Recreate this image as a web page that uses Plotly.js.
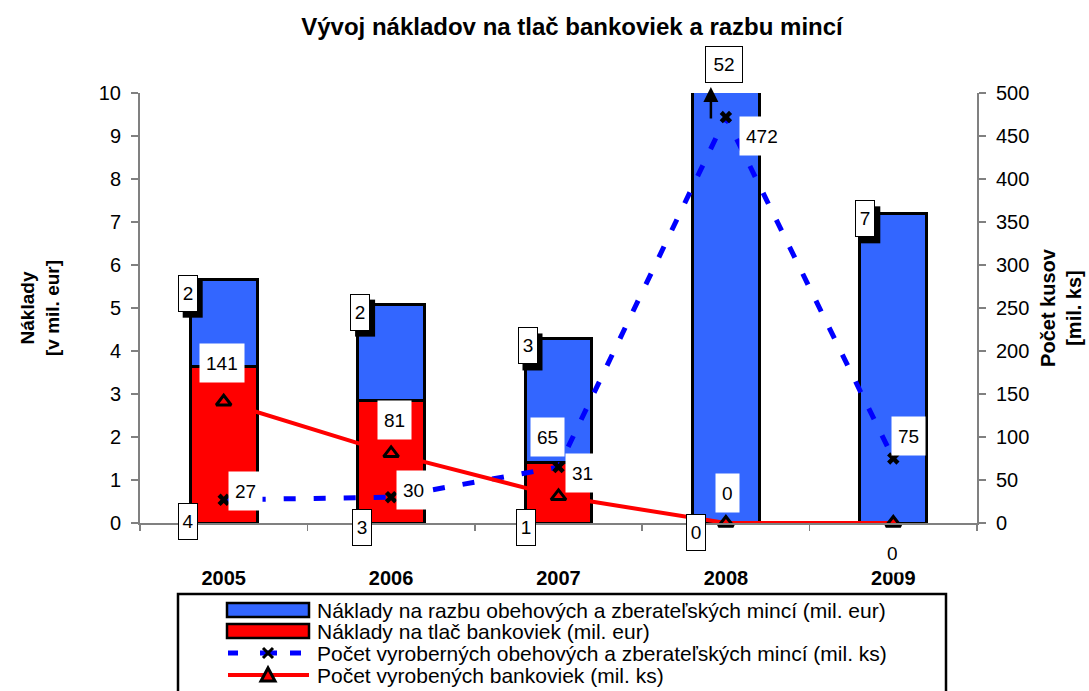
<!DOCTYPE html>
<html><head><meta charset="utf-8">
<script src="https://cdn.plot.ly/plotly-3.0.1.min.js"></script>
<style>html,body{margin:0;padding:0;background:#fff}#chart{width:1089px;height:691px}</style>
</head><body><div id="chart"></div>
<script>
// ---- data ----
const years = ['2005', '2006', '2007', '2008', '2009'];
const coinCost = [2.02, 2.23, 2.88, 52, 7.19];      // mil. eur
const noteCost = [3.65, 2.86, 1.40, 0, 0];          // mil. eur
const coinCount = [27, 30, 65, 472, 75];            // mil. ks
const noteCount = [141, 81, 31, 0, 0];              // mil. ks
const coinCostLabels = ['2', '2', '3', '52', '7'];
const noteCostLabels = ['4', '3', '1', '0'];
const coinCountLabels = ['27', '30', '65', '472', '75'];
const noteCountLabels = ['141', '81', '31', '0', '0'];
const seriesNames = [
  'Náklady na razbu obehových a zberateľských mincí (mil. eur)',
  'Náklady na tlač bankoviek (mil. eur)',
  'Počet vyroberných obehových a zberateľských mincí (mil. ks)',
  'Počet vyrobených bankoviek (mil. ks)'
];
const titleText = 'Vývoj nákladov na tlač bankoviek a razbu mincí';
const yTitle = 'Náklady<br>[v mil. eur]';
const y2Title = 'Počet kusov<br>[mil. ks]';
const yMax = 10, y2Max = 500;

// ---- geometry / styling ----
const W = 1089, H = 691, ML = 140, MR = 112, MT = 93, MB = 168;
const PW = W - ML - MR, PH = H - MT - MB;
const px2x = px => (px - ML) / PW;
const px2y = py => (H - MB - py) / PH;

const blueOff = [[-36, -14], [-31, -8], [-31, -7], [-2, 29], [-28, -5]];
const redOff = [[-36, 2], [-29, -4], [-33, -4], [-30, -9]];
const coinOff = [[22, 9], [22, 7], [-11, 30], [36, -19], [15, 23]];
const noteOff = [[-2, 39], [3, 33], [24, 23], [2, 30], [-1, -30]];

const FONT = 'Liberation Sans, Arial, sans-serif';
const BLUE = '#3366FF', RED = '#FF0000', DBLUE = '#0000FF';

const traces = [
  { type: 'bar', x: years, y: noteCost, name: seriesNames[1], showlegend: false,
    marker: { color: RED, line: { color: '#000', width: 3 } }, width: 0.4 },
  { type: 'bar', x: years, y: coinCost, name: seriesNames[0], showlegend: false,
    marker: { color: BLUE, line: { color: '#000', width: 3 } }, width: 0.4 },
  { type: 'scatter', mode: 'lines+markers', x: years, y: coinCount, yaxis: 'y2', name: seriesNames[2], showlegend: false,
    line: { color: DBLUE, width: 5, dash: '12px,18px' },
    marker: { symbol: 'x', size: 11, color: '#000' }, cliponaxis: false },
  { type: 'scatter', mode: 'lines+markers', x: years, y: noteCount, yaxis: 'y2', name: seriesNames[3], showlegend: false,
    line: { color: RED, width: 4 },
    marker: { symbol: 'triangle-up', size: 13, color: RED, line: { color: '#000', width: 3 } }, cliponaxis: false }
];

const ann = [];
const shapes = [];
const LF = { family: FONT, size: 19, color: '#000' };
function label(i, y, yref, text, off, opts) {
  ann.push(Object.assign({
    x: i, y: y, xref: 'x', yref: yref, text: text, showarrow: false,
    xshift: off[0], yshift: off[1], font: LF
  }, opts));
}
const boxed = { bgcolor: '#fff', bordercolor: '#000', borderwidth: 1, borderpad: 1, height: 33 };
// drop shadows behind the coin-cost boxes (drawn as pixel-sized shapes)
years.forEach((yr, i) => {
  const top = Math.min(noteCost[i] + coinCost[i], yMax);
  if (top < yMax) {
    const cx = blueOff[i][0] + 5, cy = blueOff[i][1] - 6;
    shapes.push({ type: 'rect', xref: 'x', yref: 'y', xsizemode: 'pixel', ysizemode: 'pixel', xanchor: i, yanchor: top,
      x0: cx - 10, x1: cx + 10, y0: cy - 18.5, y1: cy + 18.5, fillcolor: '#000', line: { width: 0 }, layer: 'above' });
  }
});
years.forEach((yr, i) => {
  const top = Math.min(noteCost[i] + coinCost[i], yMax);
  label(i, top, 'y', coinCostLabels[i], blueOff[i], Object.assign({}, boxed, { width: coinCostLabels[i].length > 1 ? 34 : 16 }));
});
noteCostLabels.forEach((t, i) => {
  label(i, 0, 'y', t, redOff[i], Object.assign({}, boxed, { width: 16 }));
});
years.forEach((yr, i) => {
  label(i, coinCount[i], 'y2', coinCountLabels[i], coinOff[i], { bgcolor: '#fff', borderpad: 6, height: 26 });
  label(i, noteCount[i], 'y2', noteCountLabels[i], noteOff[i], { bgcolor: '#fff', borderpad: 6, height: 26 });
});
// arrow showing the off-scale 2008 bar
ann.push({ x: 3, y: yMax, xref: 'x', yref: 'y', text: '', showarrow: true,
  ax: 0, ay: 33, xshift: -15, yshift: 6, arrowhead: 2, arrowsize: 1.2, arrowwidth: 2.5, arrowcolor: '#000' });

// ---- custom legend (wide swatches as in the original) ----
shapes.push({ type: 'rect', xref: 'paper', yref: 'paper', x0: px2x(178), x1: px2x(946), y0: px2y(594), y1: px2y(710),
  line: { color: '#000', width: 2.5 }, fillcolor: '#fff', layer: 'above' });
const legRowsY = [610, 631, 653, 675];
const swX0 = 227, swX1 = 309, markX = 268, textX = 315;
shapes.push({ type: 'rect', xref: 'paper', yref: 'paper', x0: px2x(swX0), x1: px2x(swX1), y0: px2y(legRowsY[0] - 7), y1: px2y(legRowsY[0] + 7),
  fillcolor: BLUE, line: { color: '#000', width: 2.5 }, layer: 'above' });
shapes.push({ type: 'rect', xref: 'paper', yref: 'paper', x0: px2x(swX0), x1: px2x(swX1), y0: px2y(legRowsY[1] - 7), y1: px2y(legRowsY[1] + 7),
  fillcolor: RED, line: { color: '#000', width: 2.5 }, layer: 'above' });
[[228, 238], [260, 277], [290, 301]].forEach(s => {
  shapes.push({ type: 'line', xref: 'paper', yref: 'paper', x0: px2x(s[0]), x1: px2x(s[1]), y0: px2y(legRowsY[2]), y1: px2y(legRowsY[2]),
    line: { color: DBLUE, width: 5 }, layer: 'above' });
});
shapes.push({ type: 'path', xref: 'paper', yref: 'paper', xsizemode: 'pixel', ysizemode: 'pixel',
  xanchor: px2x(markX), yanchor: px2y(legRowsY[2]), path: 'M-5,-5L5,5M-5,5L5,-5', line: { color: '#000', width: 3 }, layer: 'above' });
shapes.push({ type: 'line', xref: 'paper', yref: 'paper', x0: px2x(228), x1: px2x(309), y0: px2y(legRowsY[3]), y1: px2y(legRowsY[3]),
  line: { color: RED, width: 4 }, layer: 'above' });
shapes.push({ type: 'path', xref: 'paper', yref: 'paper', xsizemode: 'pixel', ysizemode: 'pixel',
  xanchor: px2x(markX), yanchor: px2y(legRowsY[3]), path: 'M-7,-6L7,-6L0,7Z', fillcolor: RED, line: { color: '#000', width: 3 }, layer: 'above' });
seriesNames.forEach((n, k) => {
  ann.push({ xref: 'paper', yref: 'paper', x: px2x(textX), y: px2y(legRowsY[k]), xanchor: 'left', yanchor: 'middle',
    text: n, showarrow: false, font: { family: FONT, size: 21, color: '#000' } });
});

const layout = {
  width: W, height: H,
  margin: { l: ML, r: MR, t: MT, b: MB },
  paper_bgcolor: '#fff', plot_bgcolor: '#fff',
  font: { family: FONT, size: 19, color: '#000' },
  title: { text: '<b>' + titleText + '</b>', font: { family: FONT, size: 24, color: '#000' },
    x: 572 / W, xref: 'container', xanchor: 'center', y: 1 - 27 / H, yref: 'container', yanchor: 'middle' },
  barmode: 'stack', bargap: 0.6,
  showlegend: false,
  xaxis: { type: 'category', range: [-0.5, 4.5], showline: true, linecolor: '#808080', linewidth: 2, ticks: 'outside', tickson: 'boundaries',
    ticklen: 6, tickcolor: '#808080', tickwidth: 1.5, showgrid: false, zeroline: false,
    tickfont: { family: FONT, size: 20, color: '#000', weight: 'bold' }, ticklabelstandoff: 36 },
  yaxis: { range: [0, yMax], dtick: 1, showline: true, linecolor: '#808080', linewidth: 2, ticks: 'outside', ticklen: 7,
    tickcolor: '#808080', tickwidth: 1.5, showgrid: false, zeroline: false, tickfont: { family: FONT, size: 20, color: '#000' },
    ticklabelstandoff: 6,
    title: { text: '<b>' + yTitle + '</b>', font: { family: FONT, size: 19, color: '#000' }, standoff: 34 } },
  yaxis2: { overlaying: 'y', side: 'right', range: [0, y2Max], dtick: 50, showline: true, linecolor: '#808080', linewidth: 2,
    ticks: 'outside', ticklen: 7, tickcolor: '#808080', tickwidth: 1.5, showgrid: false, zeroline: false,
    tickfont: { family: FONT, size: 20, color: '#000' }, ticklabelstandoff: 6,
    title: { text: '<b>' + y2Title + '</b>', font: { family: FONT, size: 20, color: '#000' }, standoff: 13 } },
  shapes: shapes,
  annotations: ann
};

Plotly.newPlot('chart', traces, layout, { displayModeBar: false, staticPlot: true });
</script>
</body></html>
